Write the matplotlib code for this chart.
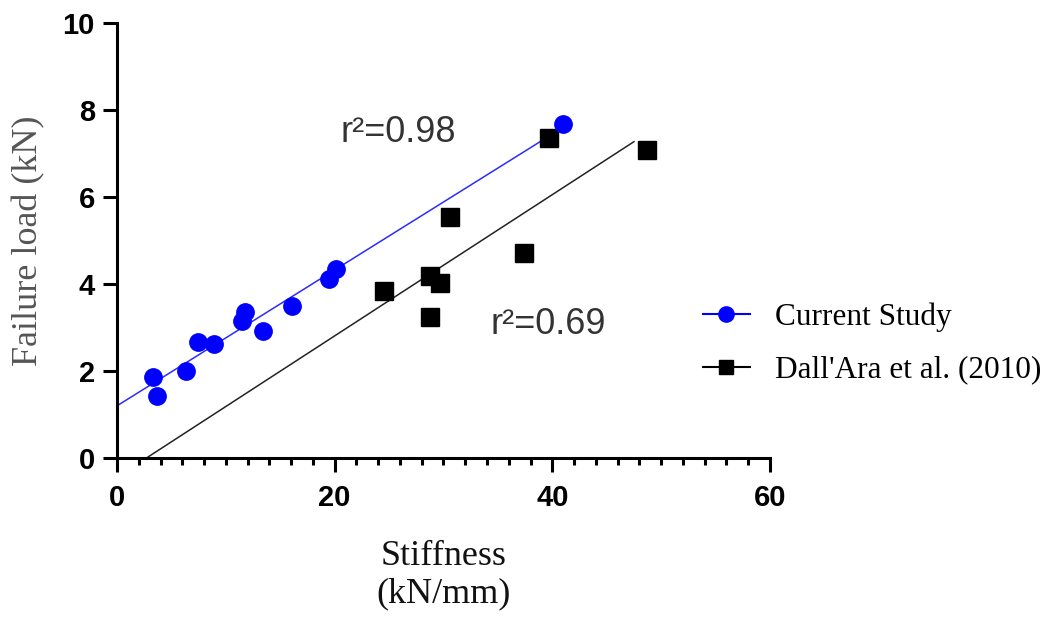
import matplotlib.pyplot as plt
from matplotlib.ticker import MultipleLocator

# Current study (blue circles)
cur_x = [3.3, 3.7, 6.3, 7.4, 8.9, 11.5, 11.8, 13.4, 16.1, 19.5, 20.1, 41.0]
cur_y = [1.87, 1.43, 2.01, 2.67, 2.61, 3.15, 3.36, 2.92, 3.50, 4.11, 4.34, 7.68]

# Dall'Ara et al. (2010) (black squares)
dall_x = [24.5, 28.8, 29.7, 28.8, 30.6, 37.4, 39.7, 48.7]
dall_y = [3.85, 4.18, 4.02, 3.25, 5.55, 4.72, 7.35, 7.08]

# regression line ends
cur_fit_x = [0.0, 39.2]
cur_fit_y = [1.20, 7.32]
dall_fit_x = [2.7, 47.5]
dall_fit_y = [0.0, 7.27]

r2_labels = ['r²=0.98', 'r²=0.69']
r2_pos = [(20.5, 7.49), (34.3, 3.08)]

fig = plt.figure(figsize=(10.54, 6.19), dpi=100)
ax = fig.add_axes([0.111, 0.260, 0.6195, 0.703])

ax.plot(cur_fit_x, cur_fit_y, color='#2b2bff', lw=1.1, zorder=2)
ax.plot(dall_fit_x, dall_fit_y, color='#222222', lw=1.1, zorder=2)
ax.plot(dall_x, dall_y, 's', color='black', ms=12.5, zorder=3)
ax.plot(cur_x, cur_y, 'o', color='#0000ff', ms=12.5, zorder=4)

# legend handles (line + marker)
h1, = ax.plot([], [], '-o', color='#0000ff', lw=1.5, ms=11, label='Current Study')
h2, = ax.plot([], [], '-s', color='black', lw=1.5, ms=10.5, label="Dall'Ara et al. (2010)")

for lab, (tx, ty) in zip(r2_labels, r2_pos):
    ax.text(tx, ty, lab, fontsize=26, family='Liberation Sans', color='#333333',
            ha='left', va='center')

ax.set_xlim(0, 60)
ax.set_ylim(0, 10)
ax.xaxis.set_major_locator(MultipleLocator(20))
ax.xaxis.set_minor_locator(MultipleLocator(2))
ax.yaxis.set_major_locator(MultipleLocator(2))

for s in ['top', 'right']:
    ax.spines[s].set_visible(False)
for s in ['left', 'bottom']:
    ax.spines[s].set_linewidth(2.2)

ax.tick_params(axis='both', which='major', length=10, width=2.2, pad=6)
ax.tick_params(axis='x', which='minor', length=5, width=2.2)
ax.tick_params(axis='x', which='major', pad=9)
for lbl in ax.get_xticklabels() + ax.get_yticklabels():
    lbl.set_family('Liberation Sans')
    lbl.set_fontweight('bold')
    lbl.set_fontsize(21)

ax.set_ylabel('Failure load (kN)', family='Liberation Serif', fontsize=26,
              color='#555555', labelpad=12)
ax.set_xlabel('Stiffness\n(kN/mm)', family='Liberation Serif', fontsize=26,
              color='#111111', labelpad=20, linespacing=1.15)

fig.legend(handles=[h1, h2], loc='center left', bbox_to_anchor=(0.64, 0.445),
           frameon=False, prop={'family': 'Liberation Serif', 'size': 22.5},
           handlelength=1.5, handletextpad=0.8, labelspacing=0.75)

fig.savefig('out.png', dpi=100)
